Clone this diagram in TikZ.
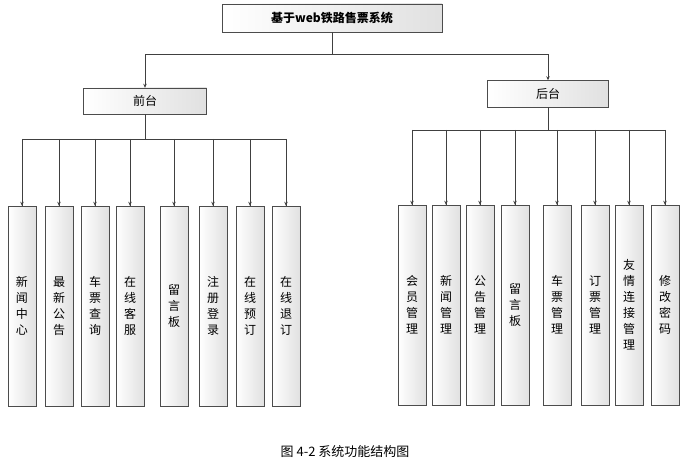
\documentclass[tikz,border=0pt]{standalone}
\usepackage{fontspec}
\setmainfont{Noto Sans CJK SC}
\usetikzlibrary{arrows.meta}
\begin{document}
\begin{tikzpicture}[x=1pt,y=-1pt,
 box/.style={draw=black!70,left color=white,right color=black!12,inner sep=0pt,font=\fontsize{12}{16}\selectfont},
 leaf/.style={box,minimum width=28pt,minimum height=200pt,align=center},
 link/.style={draw=black!75,line width=0.7pt},
 arr/.style={link,-{Stealth[length=4pt,width=3.5pt]}}]
\useasboundingbox (0,0) rectangle (692,470);
\node[box,minimum width=220pt,minimum height=28pt,font=\fontsize{12}{14}\selectfont\bfseries] (top) at (332,18) {基于web铁路售票系统};
\node[box,minimum width=123pt,minimum height=26pt] (ft) at (145,101) {前台};
\node[box,minimum width=121pt,minimum height=27pt] (bt) at (548,94) {后台};
\coordinate (tj) at (332,54);
\draw[link] (top.south) -- (tj);
\draw[arr] (tj) -| (ft.north);
\draw[arr] (tj) -| (bt.north);
\foreach \n/\x/\t in {l1/22/新\\闻\\中\\心, l2/59/最\\新\\公\\告, l3/95/车\\票\\查\\询, l4/130/在\\线\\客\\服, l5/174/留\\言\\板, l6/213/注\\册\\登\\录, l7/250/在\\线\\预\\订, l8/286/在\\线\\退\\订}{
 \node[leaf] (\n) at (\x,306) {\t};
 \draw[link] (ft.south) -- (145,139) -| (\n.north);
 \draw[arr] (\x,139) -- (\n.north);
}
\foreach \n/\x/\t in {r1/412/会\\员\\管\\理, r2/446/新\\闻\\管\\理, r3/480/公\\告\\管\\理, r4/515/留\\言\\板, r5/557/车\\票\\管\\理, r6/595/订\\票\\管\\理, r7/629/友\\情\\连\\接\\管\\理, r8/665/修\\改\\密\\码}{
 \node[leaf] (\n) at (\x,305) {\t};
 \draw[link] (bt.south) -- (548,130) -| (\n.north);
 \draw[arr] (\x,130) -- (\n.north);
}
\node[font=\fontsize{13}{15}\selectfont] (cap) at (345,452) {图 4-2 系统功能结构图};
\end{tikzpicture}
\end{document}
